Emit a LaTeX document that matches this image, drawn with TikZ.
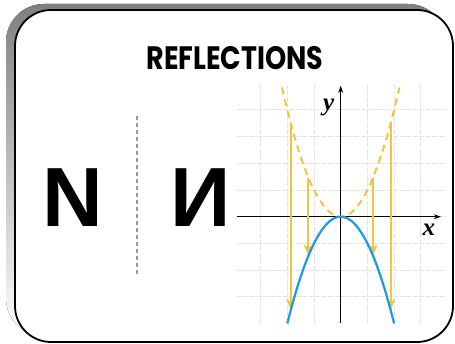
\documentclass[tikz,border=0pt]{standalone}
\usepackage{fontspec}
\setmainfont{Liberation Sans}
\newfontfamily\titlefont{Poppins}
\newfontfamily\axisfont{Liberation Serif}
\usetikzlibrary{arrows.meta}
\definecolor{shade}{HTML}{BDBDBD}
\definecolor{mirror}{HTML}{F2C440}
\definecolor{curve}{HTML}{1A9BE8}

\begin{document}
\begin{tikzpicture}[x=1pt,y=-1pt,
  gridline/.style={gray!22,line width=0.8pt,dash pattern=on 5pt off 1.5pt},
  flip/.style={mirror,line width=2pt,-{Stealth[length=11pt,width=9pt,inset=3pt]}},
  axislabel/.style={font=\axisfont\itshape\bfseries\fontsize{25}{25}\selectfont},
  bigletter/.style={inner sep=0pt,font=\bfseries\fontsize{84}{84}\selectfont}]
\useasboundingbox (0,0) rectangle (455,344);
% Card and its shadow
\fill[shade,rounded corners=38] (6,4) rectangle (446,336);
\draw[line width=1.8pt,fill=white,rounded corners=36] (15,10) rectangle (453,342);
\node[yscale=1.2] (title) at (235,58) {\titlefont\bfseries\fontsize{27}{27}\selectfont REFLECTIONS};
% Letter and its mirror image
\node[bigletter] (letter) at (73,198) {N};
\node[bigletter] (mirrored) at (201,198) {И};
\draw[gray!80,line width=1.5pt,dash pattern=on 4pt off 3pt] (137,116) -- (137,274);
% Graph of y=x^2 reflected in the x-axis
\begin{scope}[shift={(340.7,216.7)},x=26.7pt,y=26.7pt]
\foreach \i in {-3,...,3} {\draw[gridline] (\i,-3.97) -- (\i,4.93);}
\foreach \j in {-3,...,4} {\draw[gridline] (-3.88,\j) -- (3.95,\j);}
\draw[line width=0.9pt,-{Stealth[length=7pt,width=5pt]}] (-3.88,0) -- (3.75,0);
\draw[line width=0.9pt,-{Stealth[length=7pt,width=5pt]}] (0,-3.97) -- (0,4.9);
\node[axislabel] (ylabel) at (-0.45,4.1) {y};
\node[axislabel] (xlabel) at (3.3,-0.5) {x};
\draw[mirror,line width=2pt,dash pattern=on 7pt off 5pt,domain=-2.2:2.2,samples=60] plot (\x,{\x*\x});
\coordinate (a1) at (-1.87,3.5);  \coordinate (b1) at (-1.87,-3.5);
\coordinate (a2) at (-1.21,1.46); \coordinate (b2) at (-1.21,-1.46);
\coordinate (a3) at (1.21,1.46);  \coordinate (b3) at (1.21,-1.46);
\coordinate (a4) at (1.87,3.5);   \coordinate (b4) at (1.87,-3.5);
\foreach \k in {1,...,4} {\draw[flip] (a\k) -- (b\k);}
\draw[curve,line width=2.2pt,domain=-2:2,samples=60] plot (\x,{-\x*\x});
\end{scope}
\end{tikzpicture}
\end{document}
